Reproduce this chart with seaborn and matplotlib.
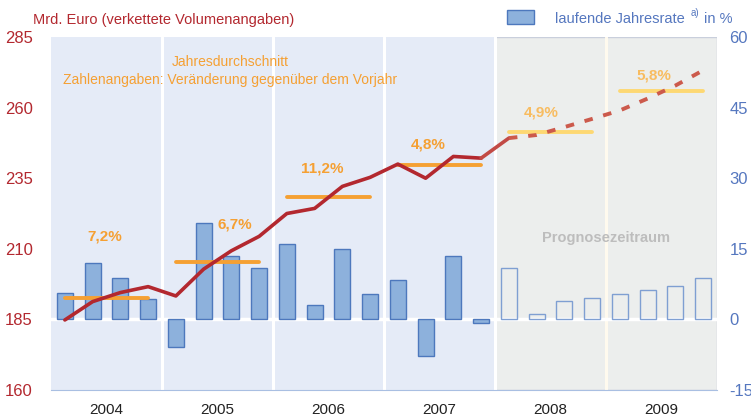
import matplotlib
matplotlib.use("Agg")
import matplotlib.pyplot as plt
import numpy as np
import seaborn as sns

# ---- data ----
years = ["2004", "2005", "2006", "2007", "2008", "2009"]
# laufende Jahresrate in %, quartalsweise 2004Q1 .. 2009Q4
rate = [5.6, 11.9, 8.7, 4.3, -5.9, 20.4, 13.4, 11.0,
        16.1, 3.0, 15.0, 5.4, 8.4, -7.7, 13.4, -0.7,
        11.0, 1.2, 3.9, 4.5, 5.5, 6.3, 7.1, 8.7]
# Mrd. Euro (verkettete Volumenangaben)
level = [184.8, 191.3, 194.5, 196.6, 193.3, 202.8, 209.3, 214.4,
         222.5, 224.3, 232.1, 235.3, 240.0, 235.0, 242.7, 242.1,
         249.2, 250.3, 253.1, 256.0, 259.0, 263.2, 267.8, 273.2]
annual_avg = [192.5, 205.3, 228.4, 239.5, 251.3, 265.8]
avg_labels = ["7,2%", "6,7%", "11,2%", "4,8%", "4,9%", "5,8%"]
left_ticks = [160, 185, 210, 235, 260, 285]
right_ticks = [-15, 0, 15, 30, 45, 60]

n_q = len(rate)
n_hist = 16  # 2004..2007 = Ist-Werte, danach Prognose
q_idx = np.arange(n_q)

# ---- style ----
sns.set_style("white")
plt.rcParams["font.family"] = ["Liberation Sans", "DejaVu Sans"]
plt.rcParams["axes.unicode_minus"] = False

RED = "#b3282f"
RED_FC = "#cc5a4c"
BLUE_TXT = "#5577bf"
BAR_FILL = "#8db1dc"
BAR_EDGE = "#4d78bd"
ORANGE = "#f5a033"
ORANGE_FC = "#fdd873"
ORANGE_FC_TXT = "#f8bc60"

fig = plt.figure(figsize=(7.51, 4.20), dpi=100)
ax = fig.add_axes([51 / 751, 30 / 420, 666 / 751, 353 / 420])

# Balken (rechte Achse)
sns.barplot(x=q_idx, y=rate, ax=ax, color=BAR_FILL, saturation=1,
            width=0.57, edgecolor=BAR_EDGE, linewidth=1, errorbar=None,
            zorder=2)
bars = list(ax.patches)
for i, p in enumerate(bars):
    if i >= n_hist:
        p.set_facecolor("none")
        p.set_edgecolor("#7f9fd2")

# Hintergrund: Ist-Zeitraum blau, Prognose grau
ax.axvspan(-0.5, n_hist - 0.5, color="#e5ebf7", zorder=0, lw=0)
ax.axvspan(n_hist - 0.5, n_q - 0.5, facecolor="#eceeed", edgecolor="#c9cfdc",
           lw=1, zorder=0)
for b in range(1, 6):
    xb = b * 4 - 0.5
    ax.axvline(xb, color="white" if xb < n_hist else "#fffaee",
               lw=2.2, zorder=0.5)
ax.axhline(0, color="white", lw=2.5, zorder=0.6)

ax.set_xlim(-0.5, n_q - 0.5)
ax.set_ylim(-15, 60)
ax.set_yticks(right_ticks)
ax.tick_params(axis="y", colors=BLUE_TXT, labelsize=12, length=0, pad=9)
ax.set_ylabel("")
ax.set_xlabel("")

# Jahresticks an den Grenzen, Beschriftung mittig
ax.set_xticks([b * 4 - 0.5 for b in range(7)])
ax.set_xticklabels([])
ax.set_xticks([b * 4 + 1.5 for b in range(6)], minor=True)
ax.set_xticklabels(years, minor=True)
ax.tick_params(axis="x", which="major", length=5, color="#a9bfe2", width=1)
ax.tick_params(axis="x", which="minor", length=0, labelsize=11,
               labelcolor="#222222", pad=9)
for s in ["top", "left", "right"]:
    ax.spines[s].set_visible(False)
ax.spines["bottom"].set_color("#a9bfe2")

# Niveau (linke Achse)
ax2 = ax.twinx()
ax2.yaxis.tick_left()
ax.yaxis.tick_right()
ax2.set_ylim(160, 285)
ax2.set_yticks(left_ticks)
ax2.tick_params(axis="y", colors=RED, labelsize=12, length=0, pad=13)
for s in ax2.spines.values():
    s.set_visible(False)

sns.lineplot(x=q_idx[:n_hist], y=level[:n_hist], ax=ax2, color=RED,
             linewidth=2.6, zorder=4)
sns.lineplot(x=q_idx[n_hist - 1:n_hist + 1], y=level[n_hist - 1:n_hist + 1],
             ax=ax2, color="#c24a45", linewidth=2.6, zorder=4)
sns.lineplot(x=q_idx[n_hist:], y=level[n_hist:], ax=ax2, color=RED_FC,
             linewidth=2.8, linestyle=(0, (2.2, 2.8)), zorder=4)

# Jahresdurchschnitte
label_dx = [-0.05, 0.63, -0.23, -0.4, -0.32, -0.29]
label_dy = [22.0, 13.4, 10.0, 7.6, 7.0, 5.5]
for k, avg in enumerate(annual_avg):
    xs = q_idx[k * 4:k * 4 + 4]
    fc = k >= 4
    sns.lineplot(x=xs, y=[avg] * 4, ax=ax2, color=ORANGE_FC if fc else ORANGE,
                 linewidth=2.8, zorder=3)
    ax2.text(xs[0] + 1.5 + label_dx[k], avg + label_dy[k], avg_labels[k],
             ha="center", va="center", fontsize=11, fontweight="bold",
             color=ORANGE_FC_TXT if fc else ORANGE, zorder=5)

ax2.set_xlim(-0.5, n_q - 0.5)
ax2.set_ylabel("")

ax2.text(5.97, 276.1, "Jahresdurchschnitt", ha="center", va="center",
         fontsize=10, color=ORANGE)
ax2.text(5.97, 269.8, "Zahlenangaben: Veränderung gegenüber dem Vorjahr",
         ha="center", va="center", fontsize=10, color=ORANGE)
ax2.text(19.5, 213.8, "Prognosezeitraum", ha="center", va="center",
         fontsize=10.5, fontweight="bold", color="#bdbdbd")

# Kopfzeile
fig.text(33 / 751, 1 - 20 / 420, "Mrd. Euro (verkettete Volumenangaben)",
         ha="left", va="center", fontsize=10.5, color=RED)
fig.patches.append(plt.Rectangle((507 / 751, 1 - 24 / 420), 27 / 751, 14 / 420,
                                 transform=fig.transFigure, facecolor=BAR_FILL,
                                 edgecolor=BAR_EDGE, lw=1))
fig.text(555 / 751, 1 - 19 / 420, "laufende Jahresrate", ha="left",
         va="center", fontsize=10.5, color=BLUE_TXT)
fig.text(691 / 751, 1 - 13 / 420, "a)", ha="left", va="center",
         fontsize=7, color=BLUE_TXT)
fig.text(704 / 751, 1 - 19 / 420, "in %", ha="left", va="center",
         fontsize=10.5, color=BLUE_TXT)

fig.savefig("out.png", dpi=100)
